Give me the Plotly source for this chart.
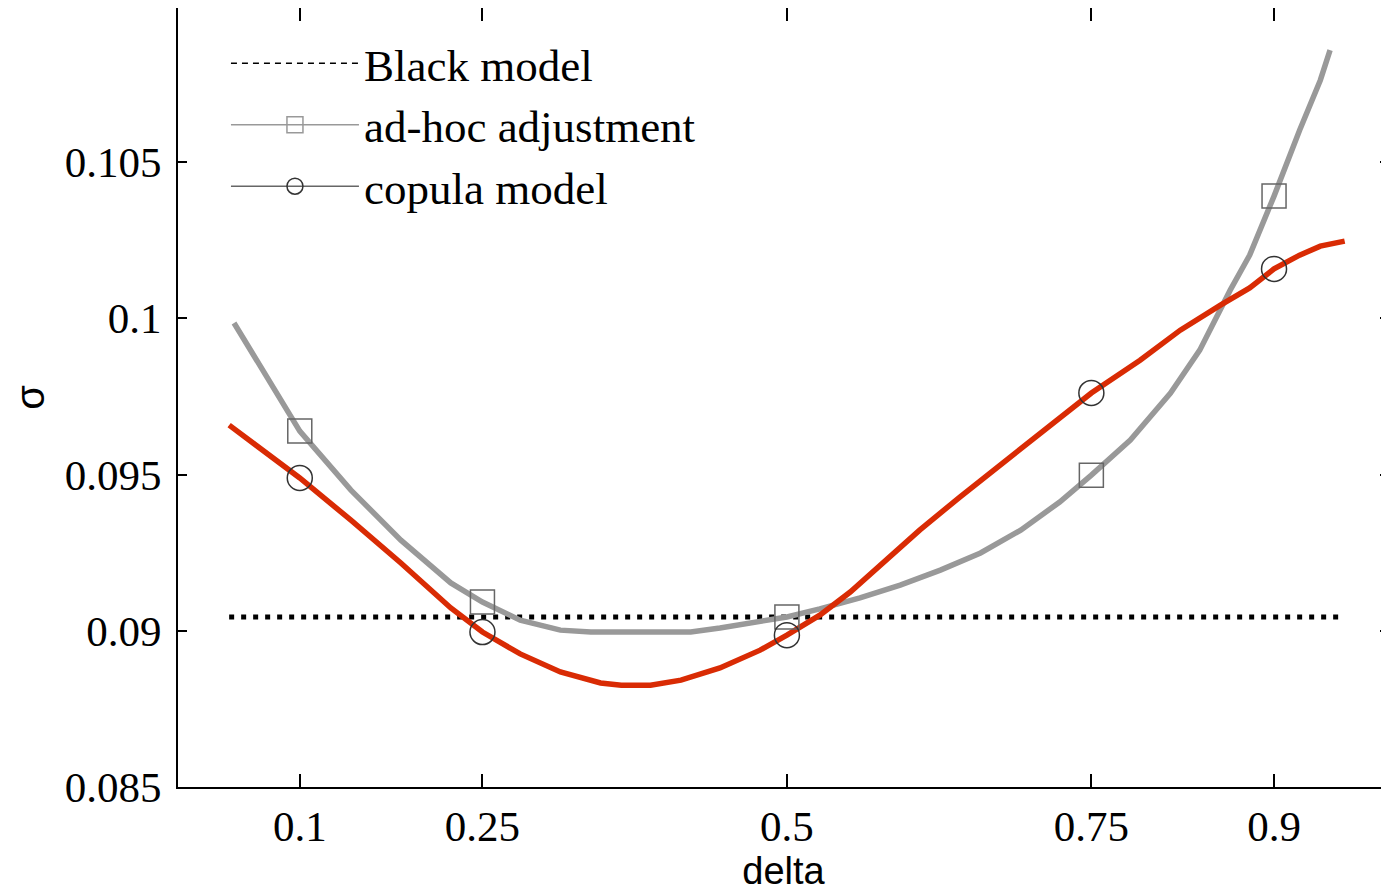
import plotly.graph_objects as go

# -- datos
delta_cop = [0.042, 0.10, 0.142, 0.183, 0.224, 0.25, 0.281, 0.314, 0.347, 0.364, 0.388, 0.413, 0.445,
             0.478, 0.50, 0.527, 0.552, 0.577, 0.609, 0.642, 0.675, 0.708, 0.75, 0.79, 0.823, 0.856,
             0.880, 0.90, 0.921, 0.938, 0.958]
sigma_cop = [0.09658, 0.09489, 0.09354, 0.09217, 0.09073, 0.08996, 0.08926, 0.08868, 0.08833, 0.08826,
             0.08826, 0.08842, 0.08881, 0.08938, 0.08986, 0.0905, 0.09124, 0.0921, 0.09322, 0.09428,
             0.0953, 0.09636, 0.09761, 0.09866, 0.09962, 0.10042, 0.10097, 0.10158, 0.10202, 0.10231,
             0.10247]

delta_adh = [0.046, 0.10, 0.142, 0.183, 0.224, 0.25, 0.281, 0.314, 0.339, 0.421, 0.445, 0.478, 0.50,
             0.527, 0.56, 0.593, 0.626, 0.659, 0.692, 0.724, 0.75, 0.782, 0.815, 0.839, 0.864, 0.880,
             0.90, 0.921, 0.938, 0.946]
sigma_adh = [0.09985, 0.09639, 0.0945, 0.0929, 0.09153, 0.09092, 0.09034, 0.09002, 0.08996, 0.08996,
             0.09009, 0.09028, 0.09044, 0.0907, 0.09105, 0.09146, 0.09194, 0.09249, 0.09322, 0.09412,
             0.09498, 0.0961, 0.09761, 0.09898, 0.1009, 0.10202, 0.10391, 0.10602, 0.10762, 0.10858]

delta_black = [0.042, 0.958]
sigma_black = [0.09044, 0.09044]

# marcadores en los deltas de mercado
delta_mk = [0.10, 0.25, 0.50, 0.75, 0.90]
sigma_mk_adh = [0.09639, 0.09092, 0.09044, 0.09498, 0.10391]
sigma_mk_cop = [0.09489, 0.08996, 0.08986, 0.09761, 0.10158]

x_ticks = [0.1, 0.25, 0.5, 0.75, 0.9]
x_ticktext = ['0.1', '0.25', '0.5', '0.75', '0.9']
y_ticks = [0.085, 0.09, 0.095, 0.1, 0.105]
y_ticktext = ['0.085', '0.09', '0.095', '0.1', '0.105']

rojo = '#d92b04'
gris = '#999999'

fig = go.Figure()

# -- curvas
fig.add_trace(go.Scatter(x=delta_black, y=sigma_black, mode='lines', showlegend=False,
                         line=dict(color='black', width=5, dash='5px,7px')))
fig.add_trace(go.Scatter(x=delta_adh, y=sigma_adh, mode='lines', showlegend=False,
                         line=dict(color=gris, width=5.5)))
fig.add_trace(go.Scatter(x=delta_cop, y=sigma_cop, mode='lines', showlegend=False,
                         line=dict(color=rojo, width=5.5)))
fig.add_trace(go.Scatter(x=delta_mk, y=sigma_mk_adh, mode='markers', showlegend=False,
                         marker=dict(symbol='square-open', size=24, color='#666666', line=dict(width=1.5))))
fig.add_trace(go.Scatter(x=delta_mk, y=sigma_mk_cop, mode='markers', showlegend=False,
                         marker=dict(symbol='circle-open', size=25, color='#333333', line=dict(width=1.5))))

# -- entradas de la leyenda
fig.add_trace(go.Scatter(x=[None], y=[None], mode='lines', name='Black model',
                         line=dict(color='black', width=1.5, dash='6px,5px')))
fig.add_trace(go.Scatter(x=[None], y=[None], mode='lines+markers', name='ad-hoc adjustment',
                         line=dict(color=gris, width=1.5),
                         marker=dict(symbol='square-open', size=24, color=gris, line=dict(width=1.5))))
fig.add_trace(go.Scatter(x=[None], y=[None], mode='lines+markers', name='copula model',
                         line=dict(color='#666666', width=1.5),
                         marker=dict(symbol='circle-open', size=25, color='#333333', line=dict(width=1.5))))

fuente_ejes = dict(family='Liberation Serif', size=43, color='black')

# el div queda desplazado 8px por el margen del body: se compensa en tamano y margenes
fig.update_layout(
    width=1381, height=884,
    margin=dict(l=170, r=0, t=0, b=105),
    paper_bgcolor='white', plot_bgcolor='white',
    legend=dict(x=0.0396, y=0.975, xanchor='left', yanchor='top', bgcolor='rgba(0,0,0,0)',
                font=dict(family='Liberation Serif', size=45, color='black'),
                itemwidth=128, tracegroupgap=0),
    xaxis=dict(range=[0, 0.9944], tickvals=x_ticks, ticktext=x_ticktext, tickfont=fuente_ejes,
               ticks='inside', ticklen=13, tickwidth=1.5, tickcolor='black',
               showline=True, linecolor='black', linewidth=2, mirror='ticks',
               showgrid=False, zeroline=False, automargin=False,
               title=dict(text='delta', font=dict(family='Liberation Sans', size=38, color='black'),
                          standoff=0)),
    yaxis=dict(range=[0.085, 0.10993], tickvals=y_ticks, ticktext=y_ticktext, tickfont=fuente_ejes,
               ticks='inside', ticklen=9, tickwidth=1.5, tickcolor='black', ticklabelstandoff=6,
               showline=True, linecolor='black', linewidth=2, mirror='ticks',
               showgrid=False, zeroline=False, automargin=False,
               title=dict(text='σ', font=dict(family='Liberation Sans', size=40, color='black'))),
)

fig.write_html("out.html")
